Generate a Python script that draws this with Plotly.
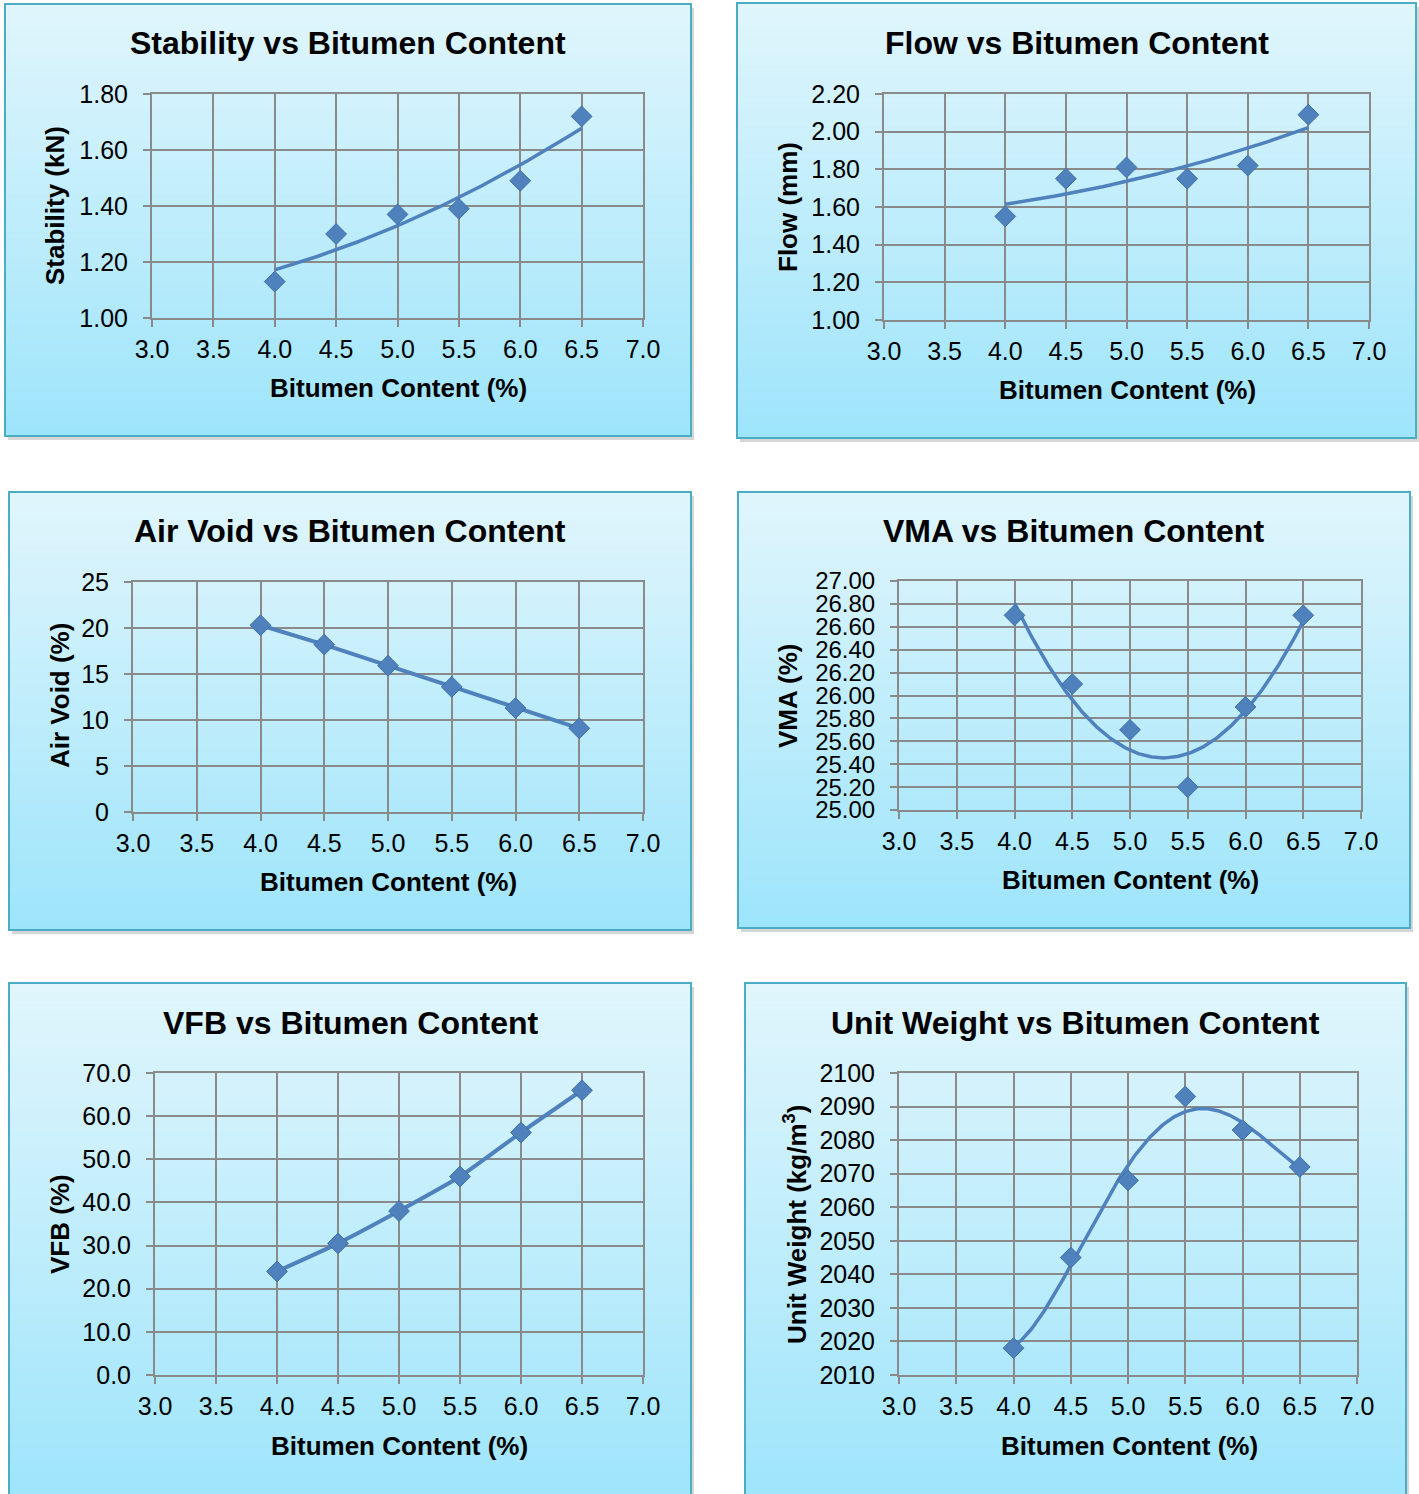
import numpy as np
import plotly.graph_objects as go

W, H = 1419, 1494

# ---- data ----
bitumen = [4.0, 4.5, 5.0, 5.5, 6.0, 6.5]
stability = [1.13, 1.30, 1.37, 1.39, 1.49, 1.72]
flow = [1.55, 1.75, 1.81, 1.75, 1.82, 2.09]
air_void = [20.3, 18.2, 15.9, 13.6, 11.3, 9.1]
vma = [26.70, 26.10, 25.70, 25.20, 25.90, 26.70]
vfb = [24.0, 30.5, 38.0, 46.0, 56.2, 66.0]
unit_weight = [2018, 2045, 2068, 2093, 2083, 2072]

x_ticks = [3.0, 3.5, 4.0, 4.5, 5.0, 5.5, 6.0, 6.5, 7.0]

BLUE = "#4F81BD"
GRID = "#8A8A8A"
FONT = "Arial, Liberation Sans, sans-serif"


def px_x(v):
    return v / W


def px_y(v):
    return 1 - v / H


# panel layout (pixels): frame box, plot area box, text positions
panels = [
    dict(title="Stability vs Bitumen Content", ytitle="Stability (kN)",
         y=stability, mode="trend", deg=2, yr=[1.0, 1.8], dy=0.2, fmt=".2f", tsize=25,
         frame=(5, 4, 691, 436), plot=(152, 94, 643, 318),
         tpos=(348, 43), xtpos=(398, 388), ytpos=(55, 206)),
    dict(title="Flow vs Bitumen Content", ytitle="Flow (mm)",
         y=flow, mode="trend", deg=2, yr=[1.0, 2.2], dy=0.2, fmt=".2f", tsize=25,
         frame=(737, 3, 1416, 438), plot=(884, 94, 1369, 320),
         tpos=(1077, 43), xtpos=(1127, 390), ytpos=(788, 207)),
    dict(title="Air Void vs Bitumen Content", ytitle="Air Void (%)",
         y=air_void, mode="line", yr=[0, 25], dy=5, fmt="d", tsize=25,
         frame=(9, 492, 691, 930), plot=(133, 582, 643, 812),
         tpos=(350, 531), xtpos=(389, 882), ytpos=(60, 696)),
    dict(title="VMA vs Bitumen Content", ytitle="VMA (%)",
         y=vma, mode="trend", deg=2, yr=[25.0, 27.0], dy=0.2, fmt=".2f", tsize=24,
         frame=(738, 492, 1410, 928), plot=(899, 581, 1361, 810),
         tpos=(1073, 531), xtpos=(1130, 880), ytpos=(788, 696)),
    dict(title="VFB vs Bitumen Content", ytitle="VFB (%)",
         y=vfb, mode="spline", yr=[0, 70], dy=10, fmt=".1f", tsize=25,
         frame=(9, 983, 691, 1503), plot=(155, 1073, 643, 1375),
         tpos=(350, 1023), xtpos=(399, 1446), ytpos=(60, 1224)),
    dict(title="Unit Weight vs Bitumen Content", ytitle="Unit Weight (kg/m<sup>3</sup>)",
         y=unit_weight, mode="trend", deg=4, yr=[2010, 2100], dy=10, fmt="d", tsize=25,
         frame=(745, 983, 1406, 1503), plot=(899, 1073, 1357, 1375),
         tpos=(1075, 1023), xtpos=(1129, 1446), ytpos=(795, 1225)),
]

fig = go.Figure()
shapes = []
annotations = []

TOP = np.array([225, 246, 253])
BOT = np.array([158, 229, 251])
N_STRIPES = 70

MARKER = dict(symbol="diamond", size=16, color=BLUE, line=dict(color="#3F6FA8", width=1))

for i, p in enumerate(panels, start=1):
    xa = "x" if i == 1 else f"x{i}"
    ya = "y" if i == 1 else f"y{i}"
    x0, y0, x1, y1 = p["frame"]

    # drop shadow
    shapes.append(dict(type="rect", xref="paper", yref="paper", layer="below",
                       x0=px_x(x0 + 3), x1=px_x(x1 + 3), y0=px_y(y1 + 4), y1=px_y(y0 + 4),
                       fillcolor="#D6D6D6", line=dict(width=0)))
    # vertical gradient fill
    h = (y1 - y0) / N_STRIPES
    for k in range(N_STRIPES):
        t = (k + 0.5) / N_STRIPES
        c = TOP + (BOT - TOP) * t
        shapes.append(dict(type="rect", xref="paper", yref="paper", layer="below",
                           x0=px_x(x0), x1=px_x(x1),
                           y0=px_y(y0 + (k + 1) * h + 0.5), y1=px_y(y0 + k * h),
                           fillcolor="rgb(%d,%d,%d)" % tuple(c.astype(int)),
                           line=dict(width=0)))
    # frame border
    shapes.append(dict(type="rect", xref="paper", yref="paper", layer="below",
                       x0=px_x(x0), x1=px_x(x1), y0=px_y(y1), y1=px_y(y0),
                       fillcolor="rgba(0,0,0,0)", line=dict(color="#4BACC6", width=2)))

    # data
    yv = p["y"]
    if p["mode"] == "trend":
        coef = np.polyfit(bitumen, yv, p["deg"])
        xs = np.linspace(bitumen[0], bitumen[-1], 200)
        fig.add_trace(go.Scatter(x=xs, y=np.polyval(coef, xs), mode="lines",
                                 line=dict(color=BLUE, width=3.5),
                                 xaxis=xa, yaxis=ya, showlegend=False, hoverinfo="skip"))
        fig.add_trace(go.Scatter(x=bitumen, y=yv, mode="markers", marker=MARKER,
                                 xaxis=xa, yaxis=ya, showlegend=False))
    else:
        shape = "spline" if p["mode"] == "spline" else "linear"
        fig.add_trace(go.Scatter(x=bitumen, y=yv, mode="lines+markers",
                                 line=dict(color=BLUE, width=4, shape=shape, smoothing=0.6),
                                 marker=MARKER, xaxis=xa, yaxis=ya, showlegend=False))

    px0, py0, px1, py1 = p["plot"]
    axis_common = dict(showgrid=True, gridcolor=GRID, gridwidth=2,
                       showline=True, linecolor=GRID, linewidth=2, mirror=True,
                       ticks="outside", ticklen=7, tickwidth=2, tickcolor=GRID,
                       zeroline=False, fixedrange=True, automargin=False)
    y_ticks = list(np.round(np.arange(p["yr"][0], p["yr"][1] + p["dy"] / 2, p["dy"]), 3))
    if p["fmt"] == "d":
        y_text = ["%d" % v for v in y_ticks]
    elif p["fmt"] == ".1f":
        y_text = ["%.1f" % v for v in y_ticks]
    else:
        y_text = ["%.2f" % v for v in y_ticks]
    fig.layout[("xaxis" if i == 1 else f"xaxis{i}")] = dict(
        domain=[px_x(px0), px_x(px1)], range=[3, 7], anchor=ya,
        tickvals=x_ticks, ticktext=["%.1f" % v for v in x_ticks],
        ticklabelstandoff=1, tickfont=dict(family=FONT, size=25, color="#000000"),
        **axis_common)
    fig.layout[("yaxis" if i == 1 else f"yaxis{i}")] = dict(
        domain=[px_y(py1), px_y(py0)], range=p["yr"], anchor=xa,
        tickvals=y_ticks, ticktext=y_text, ticklabelstandoff=10,
        tickfont=dict(family=FONT, size=p["tsize"], color="#000000"),
        **axis_common)

    # titles
    annotations.append(dict(text=p["title"], x=px_x(p["tpos"][0]), y=px_y(p["tpos"][1]),
                            xref="paper", yref="paper", showarrow=False,
                            xanchor="center", yanchor="middle",
                            font=dict(family=FONT, size=32, color="#000000", weight="bold")))
    annotations.append(dict(text="Bitumen Content (%)", x=px_x(p["xtpos"][0]), y=px_y(p["xtpos"][1]),
                            xref="paper", yref="paper", showarrow=False,
                            xanchor="center", yanchor="middle",
                            font=dict(family=FONT, size=26, color="#000000", weight="bold")))
    annotations.append(dict(text=p["ytitle"], x=px_x(p["ytpos"][0]), y=px_y(p["ytpos"][1]),
                            xref="paper", yref="paper", showarrow=False, textangle=-90,
                            xanchor="center", yanchor="middle",
                            font=dict(family=FONT, size=26, color="#000000", weight="bold")))

fig.update_layout(width=W, height=H, margin=dict(l=0, r=0, t=0, b=0, pad=0, autoexpand=False),
                  paper_bgcolor="white", plot_bgcolor="white",
                  shapes=shapes, annotations=annotations, showlegend=False)

fig.write_html("out.html", config=dict(displayModeBar=False))
